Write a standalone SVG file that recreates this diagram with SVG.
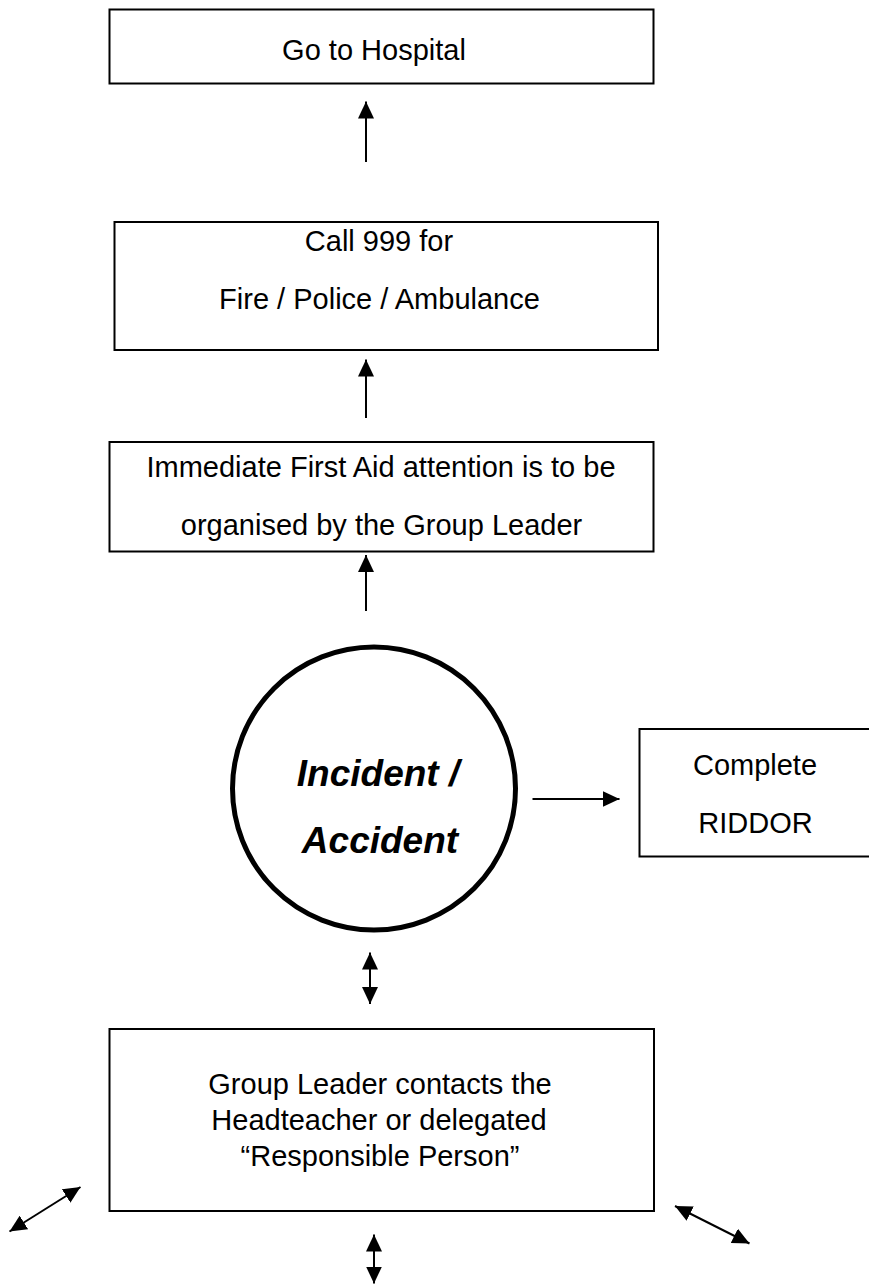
<svg xmlns="http://www.w3.org/2000/svg" width="869" height="1284" viewBox="0 0 869 1284">
<defs>
<marker id="ah" markerUnits="userSpaceOnUse" markerWidth="17" markerHeight="16" refX="17" refY="8" orient="auto-start-reverse">
<path d="M0,0 L17,8 L0,16 Z" fill="#000"/>
</marker>
</defs>
<style>
.box{fill:#fff;stroke:#000;stroke-width:2}
.t{font-family:"Liberation Sans",Arial,sans-serif;font-size:29px;fill:#000;text-anchor:middle}
.big{font-family:"Liberation Sans",Arial,sans-serif;font-size:37px;font-weight:bold;font-style:italic;fill:#000;text-anchor:middle}
.c{stroke:#000;stroke-width:2;fill:none}
.one{marker-end:url(#ah)}
.two{marker-start:url(#ah);marker-end:url(#ah)}
</style>
<rect width="869" height="1284" fill="#fff"/>
<g id="hospital">
<rect class="box" x="109.5" y="9.5" width="544" height="74"/>
<text class="t" x="374" y="60">Go to Hospital</text>
</g>
<g id="call999">
<rect class="box" x="114.5" y="222" width="543.5" height="128"/>
<text class="t" x="379" y="251">Call 999 for</text>
<text class="t" x="379.5" y="309">Fire / Police / Ambulance</text>
</g>
<g id="firstaid">
<rect class="box" x="109.5" y="442" width="544" height="109.5"/>
<text class="t" x="381" y="477">Immediate First Aid attention is to be</text>
<text class="t" x="381.5" y="535">organised by the Group Leader</text>
</g>
<g id="incident">
<circle cx="374" cy="788.5" r="141.5" fill="#fff" stroke="#000" stroke-width="5"/>
<text class="big" x="378" y="786">Incident /</text>
<text class="big" x="380" y="853">Accident</text>
</g>
<g id="riddor">
<rect class="box" x="639.5" y="729" width="240" height="127.5"/>
<text class="t" x="755" y="775">Complete</text>
<text class="t" x="755.5" y="833">RIDDOR</text>
</g>
<g id="groupleader">
<rect class="box" x="109.5" y="1029" width="544.5" height="182"/>
<text class="t" x="380" y="1094">Group Leader contacts the</text>
<text class="t" x="379" y="1130">Headteacher or delegated</text>
<text class="t" x="380" y="1166">“Responsible Person”</text>
</g>
<g id="connectors">
<line class="c one" x1="366" y1="162" x2="366" y2="101.5"/>
<line class="c one" x1="366" y1="418" x2="366" y2="359.5"/>
<line class="c one" x1="366" y1="611" x2="366" y2="555"/>
<line class="c one" x1="532.5" y1="799" x2="619.5" y2="799"/>
<line class="c two" x1="370" y1="952.5" x2="370" y2="1004"/>
<line class="c two" x1="9.5" y1="1231.5" x2="80.5" y2="1187"/>
<line class="c two" x1="675" y1="1206" x2="749.5" y2="1243.5"/>
<line class="c two" x1="374" y1="1234.5" x2="374" y2="1283.5"/>
</g>
</svg>
